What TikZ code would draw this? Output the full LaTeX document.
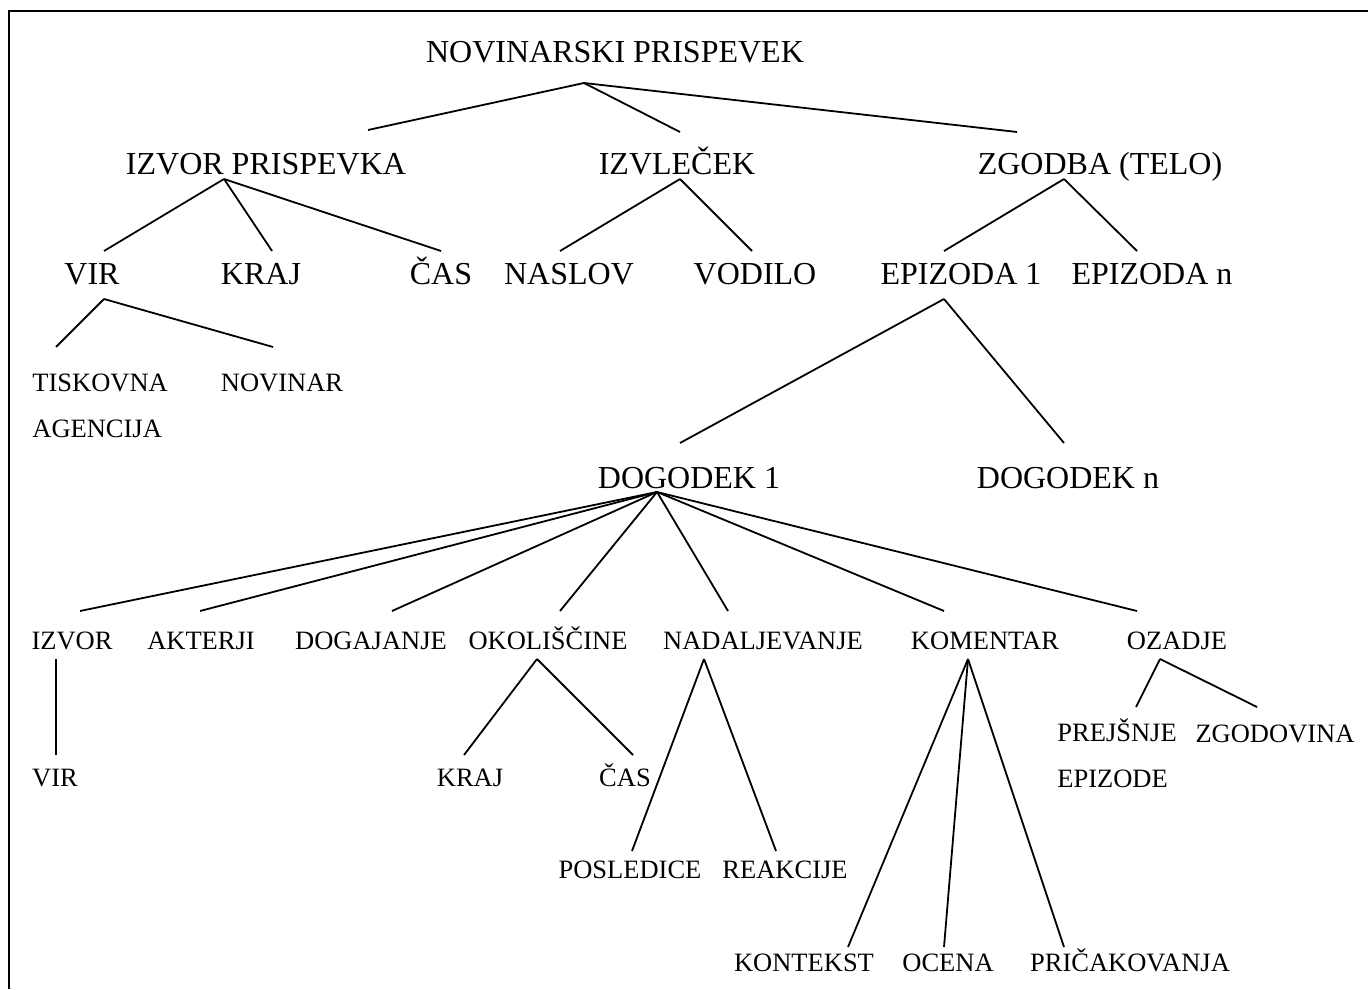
\documentclass[tikz,border=0pt]{standalone}
\usepackage{fontspec}
\setmainfont{Liberation Serif}
\usetikzlibrary{calc}

\begin{document}
\begin{tikzpicture}[x=0.5pt, y=-0.5pt,
    big/.style={anchor=base, inner sep=0pt, font=\fontsize{16}{19}\selectfont},
    small/.style={anchor=base, inner sep=0pt, font=\fontsize{13.25}{23}\selectfont},
    branch/.style={line width=0.9pt}
]
\useasboundingbox (0,0) rectangle (1368,989);

% Frame
\draw[line width=1pt] (8.5,989) -- (8.5,11) -- (1368,11);

% Top
\node[big] (root) at (615, 63) {NOVINARSKI PRISPEVEK};

% Level 1
\node[big] (izvorp) at (266, 175) {IZVOR PRISPEVKA};
\node[big] (izvlecek) at (677, 175) {IZVLEČEK};
\node[big] (zgodba) at (1100, 175) {ZGODBA (TELO)};
\draw[branch] ($(root.base)+(-31,20)$) -- ($(izvorp.base)+(102,-45)$);
\draw[branch] ($(root.base)+(-31,20)$) -- ($(izvlecek.base)+(3,-43)$);
\draw[branch] ($(root.base)+(-31,20)$) -- ($(zgodba.base)+(-83,-43)$);

% Level 2
\node[big] (vir) at (92, 285) {VIR};
\node[big] (kraj) at (261, 285) {KRAJ};
\node[big] (cas) at (441, 285) {ČAS};
\draw[branch] ($(izvorp.base)+(-42,4)$) -- ($(vir.base)+(12,-34)$);
\draw[branch] ($(izvorp.base)+(-42,4)$) -- ($(kraj.base)+(11,-34)$);
\draw[branch] ($(izvorp.base)+(-42,4)$) -- ($(cas.base)+(0,-34)$);

\node[big] (naslov) at (569, 285) {NASLOV};
\node[big] (vodilo) at (755, 285) {VODILO};
\draw[branch] ($(izvlecek.base)+(3,4)$) -- ($(naslov.base)+(-9,-34)$);
\draw[branch] ($(izvlecek.base)+(3,4)$) -- ($(vodilo.base)+(-3,-34)$);

\node[big] (epi1) at (961, 285) {EPIZODA 1};
\node[big] (epin) at (1152, 285) {EPIZODA n};
\draw[branch] ($(zgodba.base)+(-36,4)$) -- ($(epi1.base)+(-17,-34)$);
\draw[branch] ($(zgodba.base)+(-36,4)$) -- ($(epin.base)+(-15,-34)$);

% Source of the article
\node[small, anchor=base west, align=left] (tiskovna) at (32, 437) {TISKOVNA\\AGENCIJA};
\node[small] (novinar) at (282, 391) {NOVINAR};
\draw[branch] ($(vir.base)+(12,14)$) -- ($(tiskovna.base west)+(24,-90)$);
\draw[branch] ($(vir.base)+(12,14)$) -- ($(novinar.base)+(-9,-44)$);

% Events
\node[big] (dog1) at (689, 488) {DOGODEK 1};
\node[big] (dogn) at (1068, 488) {DOGODEK n};
\draw[branch] ($(epi1.base)+(-17,14)$) -- ($(dog1.base)+(-9,-45)$);
\draw[branch] ($(epi1.base)+(-17,14)$) -- ($(dogn.base)+(-4,-45)$);

% Parts of an event
\node[small] (izvor) at (72, 649) {IZVOR};
\node[small] (akterji) at (201, 649) {AKTERJI};
\node[small] (dogajanje) at (371, 649) {DOGAJANJE};
\node[small] (okol) at (548, 649) {OKOLIŠČINE};
\node[small] (nadalj) at (763, 649) {NADALJEVANJE};
\node[small] (komentar) at (985, 649) {KOMENTAR};
\node[small] (ozadje) at (1177, 649) {OZADJE};
\draw[branch] ($(dog1.base)+(-32,4)$) -- ($(izvor.base)+(8,-38)$);
\draw[branch] ($(dog1.base)+(-32,4)$) -- ($(akterji.base)+(-1,-38)$);
\draw[branch] ($(dog1.base)+(-32,4)$) -- ($(dogajanje.base)+(21,-38)$);
\draw[branch] ($(dog1.base)+(-32,4)$) -- ($(okol.base)+(12,-38)$);
\draw[branch] ($(dog1.base)+(-32,4)$) -- ($(nadalj.base)+(-35,-38)$);
\draw[branch] ($(dog1.base)+(-32,4)$) -- ($(komentar.base)+(-41,-38)$);
\draw[branch] ($(dog1.base)+(-32,4)$) -- ($(ozadje.base)+(-40,-38)$);

% Lower levels
\node[small] (vir2) at (55, 786) {VIR};
\draw[branch] ($(izvor.base)+(-16,10)$) -- ($(vir2.base)+(1,-31)$);

\node[small] (kraj2) at (470, 786) {KRAJ};
\node[small] (cas2) at (625, 786) {ČAS};
\draw[branch] ($(okol.base)+(-11,10)$) -- ($(kraj2.base)+(-6,-31)$);
\draw[branch] ($(okol.base)+(-11,10)$) -- ($(cas2.base)+(8,-31)$);

\node[small] (posledice) at (630, 878) {POSLEDICE};
\node[small] (reakcije) at (785, 878) {REAKCIJE};
\draw[branch] ($(nadalj.base)+(-59,10)$) -- ($(posledice.base)+(2,-27)$);
\draw[branch] ($(nadalj.base)+(-59,10)$) -- ($(reakcije.base)+(-9,-27)$);

\node[small] (kontekst) at (804, 971) {KONTEKST};
\node[small] (ocena) at (948, 971) {OCENA};
\node[small] (pricak) at (1130, 971) {PRIČAKOVANJA};
\draw[branch] ($(komentar.base)+(-17,10)$) -- ($(kontekst.base)+(44,-24)$);
\draw[branch] ($(komentar.base)+(-17,10)$) -- ($(ocena.base)+(-4,-24)$);
\draw[branch] ($(komentar.base)+(-17,10)$) -- ($(pricak.base)+(-66,-24)$);

\node[small, anchor=base west, align=left] (prejsnje) at (1057, 787) {PREJŠNJE\\EPIZODE};
\node[small] (zgodovina) at (1275, 742) {ZGODOVINA};
\draw[branch] ($(ozadje.base)+(-17,10)$) -- ($(prejsnje.base west)+(79,-80)$);
\draw[branch] ($(ozadje.base)+(-17,10)$) -- ($(zgodovina.base)+(-18,-35)$);

\end{tikzpicture}
\end{document}
